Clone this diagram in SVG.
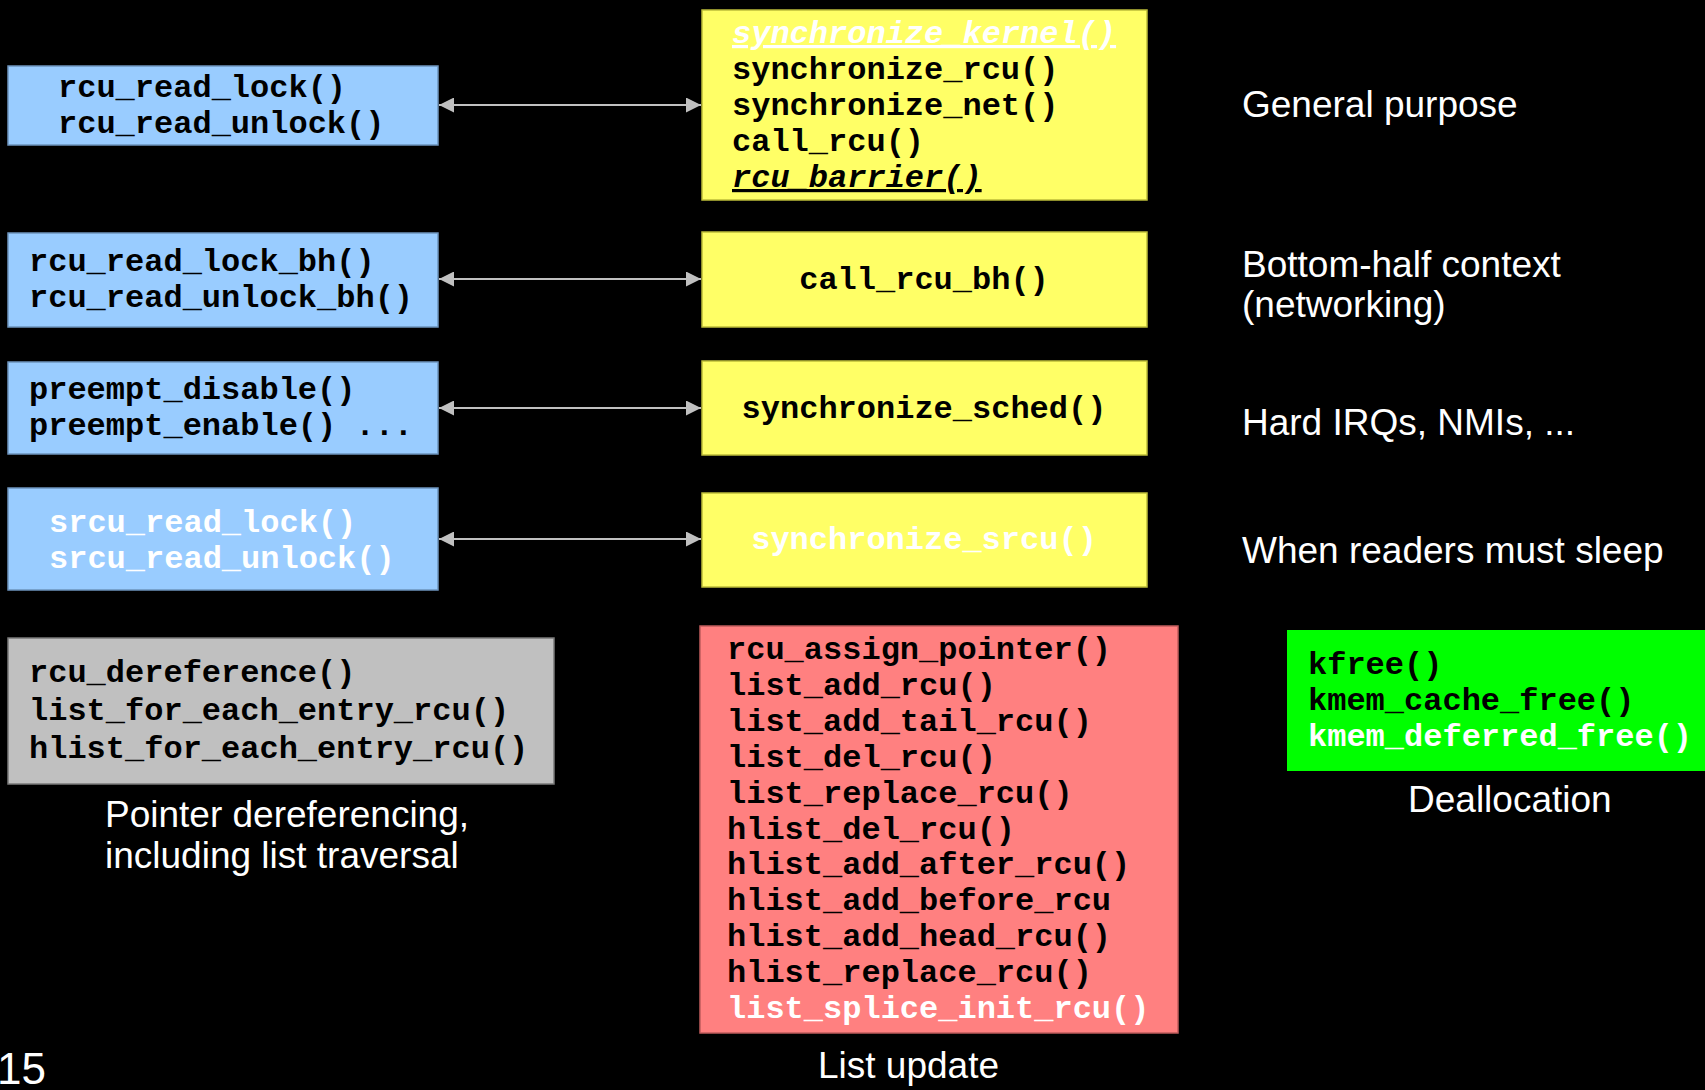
<svg xmlns="http://www.w3.org/2000/svg" width="1705" height="1090" viewBox="0 0 1705 1090">
<style>
.mono{font-family:"Liberation Mono","Courier New",monospace;font-size:32px;font-weight:bold;fill:#000}
.w{fill:#fff}
.it{font-style:italic;text-decoration:underline}
.lbl{font-family:"Liberation Sans",Arial,sans-serif;font-size:37px;fill:#fff}
.blue{fill:#99ccff;stroke:#6d94bd;stroke-width:1.5}
.yel{fill:#ffff66;stroke:#bdbd3a;stroke-width:1.5}
.gray{fill:#c0c0c0;stroke:#7a7a7a;stroke-width:1.5}
.red{fill:#ff8080;stroke:#c05c5c;stroke-width:1.5}
.grn{fill:#00ff00}
.conn{stroke:#c0c0c0;stroke-width:2;fill:none}
</style>
<defs>
<marker id="ah" viewBox="0 0 15 15" markerWidth="15" markerHeight="15" refX="15" refY="7.5" markerUnits="userSpaceOnUse" orient="auto-start-reverse">
<path d="M0,0 L15,7.5 L0,15 z" fill="#c0c0c0"/>
</marker>
</defs>
<rect x="0" y="0" width="1705" height="1090" fill="#000"/>

<g id="reader-rcu">
<rect class="blue" x="8" y="66" width="430" height="79"/>
<text class="mono" x="58" y="97">rcu_read_lock()</text>
<text class="mono" x="58" y="133">rcu_read_unlock()</text>
</g>
<g id="reader-bh">
<rect class="blue" x="8" y="233" width="430" height="94"/>
<text class="mono" x="29" y="271">rcu_read_lock_bh()</text>
<text class="mono" x="29" y="307">rcu_read_unlock_bh()</text>
</g>
<g id="reader-sched">
<rect class="blue" x="8" y="362" width="430" height="92"/>
<text class="mono" x="29" y="399">preempt_disable()</text>
<text class="mono" x="29" y="435">preempt_enable() ...</text>
</g>
<g id="reader-srcu">
<rect class="blue" x="8" y="488" width="430" height="102"/>
<text class="mono w" x="49" y="532">srcu_read_lock()</text>
<text class="mono w" x="49" y="568">srcu_read_unlock()</text>
</g>

<g id="updater-rcu">
<rect class="yel" x="702" y="10" width="445" height="190"/>
<text class="mono w it" x="732" y="43">synchronize_kernel()</text>
<text class="mono" x="732" y="79">synchronize_rcu()</text>
<text class="mono" x="732" y="115">synchronize_net()</text>
<text class="mono" x="732" y="151">call_rcu()</text>
<text class="mono it" x="732" y="187">rcu_barrier()</text>
</g>
<g id="updater-bh">
<rect class="yel" x="702" y="232" width="445" height="95"/>
<text class="mono" x="924" y="289" text-anchor="middle">call_rcu_bh()</text>
</g>
<g id="updater-sched">
<rect class="yel" x="702" y="361" width="445" height="94"/>
<text class="mono" x="924" y="418" text-anchor="middle">synchronize_sched()</text>
</g>
<g id="updater-srcu">
<rect class="yel" x="702" y="493" width="445" height="94"/>
<text class="mono w" x="924" y="549" text-anchor="middle">synchronize_srcu()</text>
</g>

<g id="label-general">
<text class="lbl" x="1242" y="117">General purpose</text>
</g>
<g id="label-bh">
<text class="lbl" x="1242" y="277">Bottom-half context</text>
<text class="lbl" x="1242" y="317">(networking)</text>
</g>
<g id="label-sched">
<text class="lbl" x="1242" y="435">Hard IRQs, NMIs, ...</text>
</g>
<g id="label-srcu">
<text class="lbl" x="1242" y="563">When readers must sleep</text>
</g>

<g id="deref">
<rect class="gray" x="8" y="638" width="546" height="146"/>
<text class="mono" x="29" y="682">rcu_dereference()</text>
<text class="mono" x="29" y="720">list_for_each_entry_rcu()</text>
<text class="mono" x="29" y="758">hlist_for_each_entry_rcu()</text>
<text class="lbl" x="105" y="827">Pointer dereferencing,</text>
<text class="lbl" x="105" y="868">including list traversal</text>
</g>

<g id="list-update">
<rect class="red" x="700" y="626" width="478" height="407"/>
<text class="mono" x="727" y="659">rcu_assign_pointer()</text>
<text class="mono" x="727" y="695">list_add_rcu()</text>
<text class="mono" x="727" y="731">list_add_tail_rcu()</text>
<text class="mono" x="727" y="767">list_del_rcu()</text>
<text class="mono" x="727" y="803">list_replace_rcu()</text>
<text class="mono" x="727" y="839">hlist_del_rcu()</text>
<text class="mono" x="727" y="874">hlist_add_after_rcu()</text>
<text class="mono" x="727" y="910">hlist_add_before_rcu</text>
<text class="mono" x="727" y="946">hlist_add_head_rcu()</text>
<text class="mono" x="727" y="982">hlist_replace_rcu()</text>
<text class="mono w" x="727" y="1018">list_splice_init_rcu()</text>
<text class="lbl" x="818" y="1078">List update</text>
</g>

<g id="dealloc">
<rect class="grn" x="1287" y="630" width="420" height="141"/>
<text class="mono" x="1308" y="674">kfree()</text>
<text class="mono" x="1308" y="710">kmem_cache_free()</text>
<text class="mono w" x="1308" y="746">kmem_deferred_free()</text>
<text class="lbl" x="1408" y="812">Deallocation</text>
</g>

<g id="connectors">
<line class="conn" x1="439" y1="105" x2="701" y2="105" marker-start="url(#ah)" marker-end="url(#ah)"/>
<line class="conn" x1="439" y1="279" x2="701" y2="279" marker-start="url(#ah)" marker-end="url(#ah)"/>
<line class="conn" x1="439" y1="408" x2="701" y2="408" marker-start="url(#ah)" marker-end="url(#ah)"/>
<line class="conn" x1="439" y1="539" x2="701" y2="539" marker-start="url(#ah)" marker-end="url(#ah)"/>
</g>

<text class="lbl" x="-3" y="1084" style="font-size:44px">15</text>
</svg>
